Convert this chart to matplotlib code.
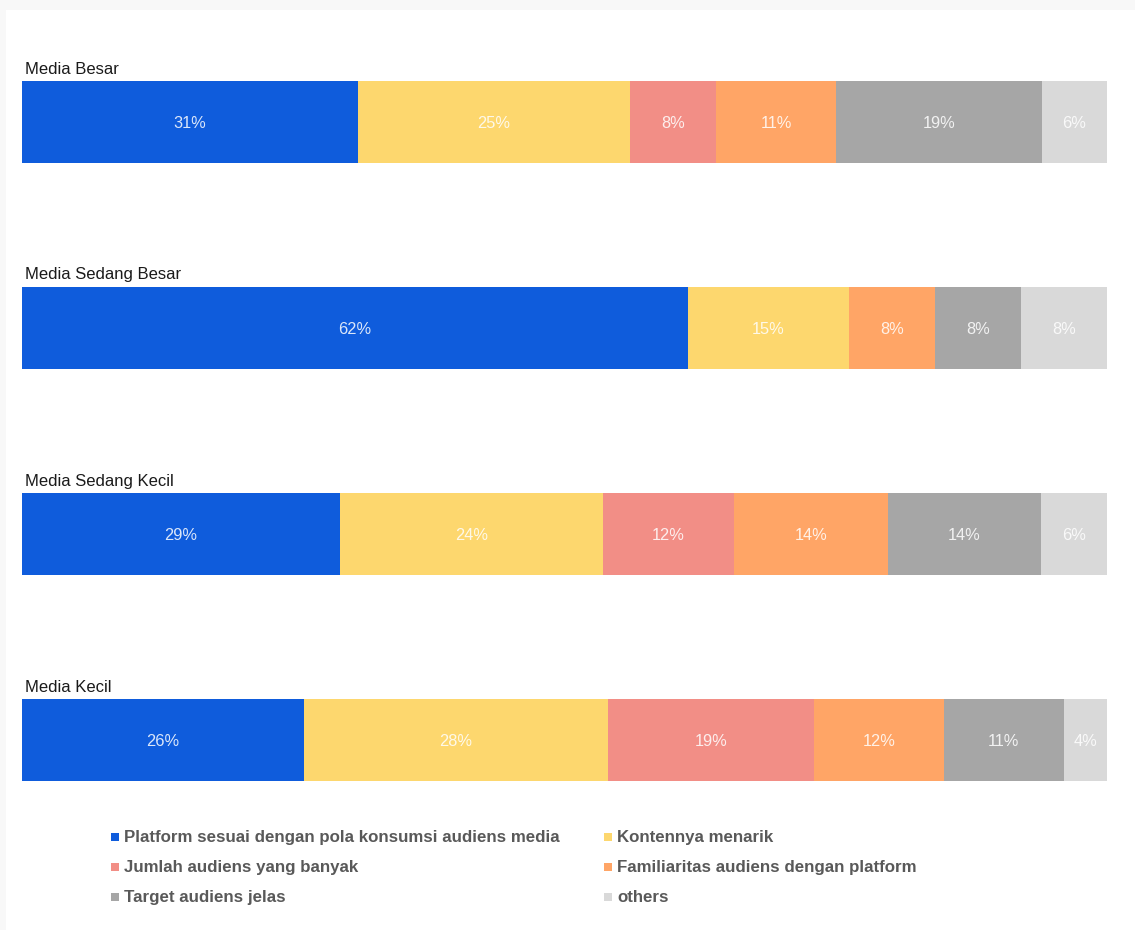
import matplotlib.pyplot as plt
from matplotlib.patches import Rectangle

plt.rcParams['font.family'] = ['Liberation Sans', 'DejaVu Sans']

groups = ["Media Besar", "Media Sedang Besar", "Media Sedang Kecil", "Media Kecil"]
reasons = [
    "Platform sesuai dengan pola konsumsi audiens media",
    "Kontennya menarik",
    "Jumlah audiens yang banyak",
    "Familiaritas audiens dengan platform",
    "Target audiens jelas",
    "others",
]
media_besar = [31, 25, 8, 11, 19, 6]
media_sedang_besar = [62, 15, 0, 8, 8, 8]
media_sedang_kecil = [29, 24, 12, 14, 14, 6]
media_kecil = [26, 28, 19, 12, 11, 4]
shares = [media_besar, media_sedang_besar, media_sedang_kecil, media_kecil]

colors = ["#0F5CDC", "#FDD76E", "#F28E86", "#FFA566", "#A6A6A6", "#D9D9D9"]

W, H = 1135, 930
fig = plt.figure(figsize=(W / 100, H / 100), dpi=100)
fig.patch.set_facecolor("#f8f8f8")
fig.add_artist(Rectangle((6 / W, 0), 1, 1 - 10 / H, transform=fig.transFigure,
                         facecolor="white", edgecolor="none", zorder=0))

bar_left, bar_width = 22, 1085
bar_h = 82
for i, (name, vals) in enumerate(zip(groups, shares)):
    top = 81 + i * 206
    ax = fig.add_axes([bar_left / W, (H - top - bar_h) / H, bar_width / W, bar_h / H])
    total = sum(vals)
    left = 0
    for v, c in zip(vals, colors):
        if v == 0:
            continue
        ax.barh(0, v, left=left, height=1, color=c, edgecolor="none")
        ax.text(left + v / 2, -0.02, f"{v}%", ha="center", va="center",
                fontsize=11.8, color="white", alpha=0.85)
        left += v
    ax.set_xlim(0, total)
    ax.set_ylim(-0.5, 0.5)
    ax.axis("off")
    fig.text(25 / W, 1 - (top - 12) / H, name, fontsize=12, color="#1a1a1a",
             ha="left", va="center")

# legend laid out as two columns below the bars
col_x = [111, 604]
row_y = [837, 867, 897]
for k, (label, c) in enumerate(zip(reasons, colors)):
    cx = col_x[k % 2]
    cy = row_y[k // 2]
    fig.add_artist(Rectangle((cx / W, 1 - (cy + 4) / H), 8 / W, 8 / H,
                             transform=fig.transFigure, facecolor=c, edgecolor="none"))
    fig.text((cx + 13) / W, 1 - cy / H, label, fontsize=12.2, fontweight="bold",
             color="#595959", ha="left", va="center")

fig.savefig("out.png", dpi=100, facecolor=fig.get_facecolor())
